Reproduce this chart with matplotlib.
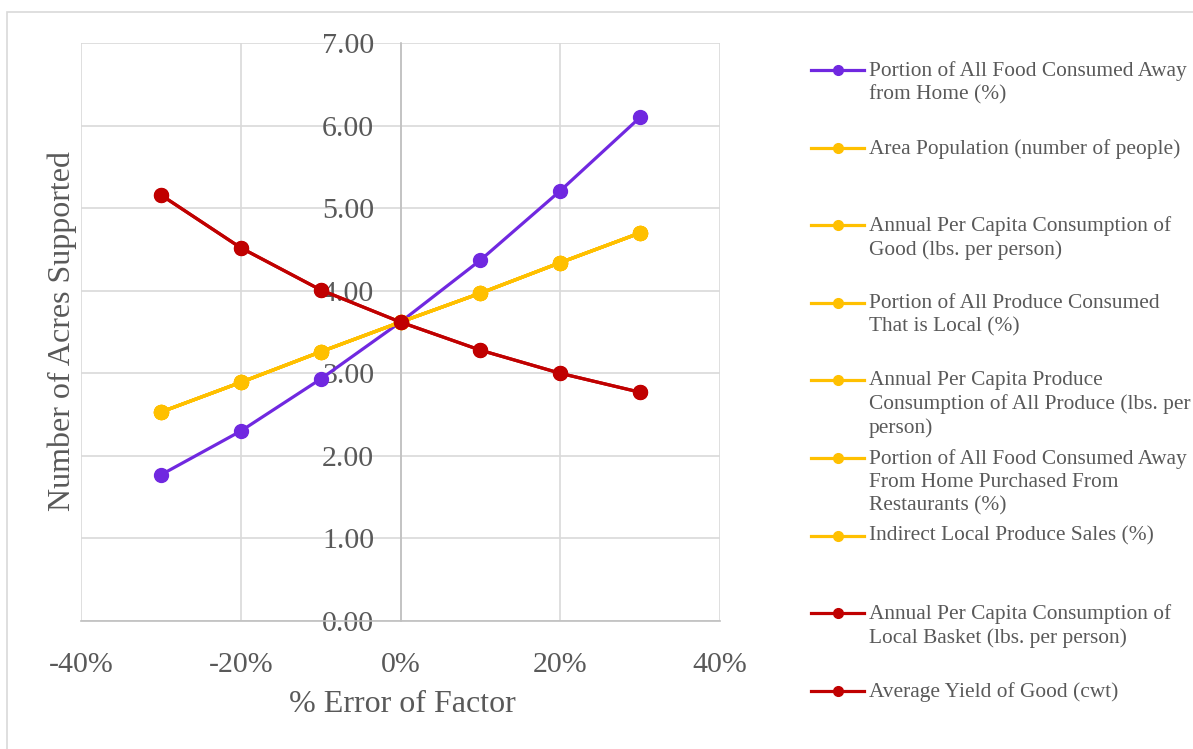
import matplotlib
matplotlib.use("Agg")
import matplotlib.pyplot as plt
from matplotlib.lines import Line2D
from matplotlib.patches import Rectangle

plt.rcParams['font.family'] = ['Liberation Serif', 'DejaVu Serif']

# % error applied to each factor
error_pct = [-30, -20, -10, 0, 10, 20, 30]

# acres supported for each kind of response
away_from_home = [1.77, 2.30, 2.93, 3.62, 4.37, 5.21, 6.10]
linear_factor = [2.53, 2.89, 3.26, 3.62, 3.97, 4.34, 4.70]
inverse_factor = [5.16, 4.52, 4.01, 3.62, 3.28, 3.00, 2.77]

purple = '#7028E0'
yellow = '#FFC000'
red = '#C00000'

series_names = [
    "Portion of All Food Consumed Away\nfrom Home (%)",
    "Area Population (number of people)",
    "Annual Per Capita Consumption of\nGood (lbs. per person)",
    "Portion of All Produce Consumed\nThat is Local (%)",
    "Annual Per Capita Produce\nConsumption of All Produce (lbs. per\nperson)",
    "Portion of All Food Consumed Away\nFrom Home Purchased From\nRestaurants (%)",
    "Indirect Local Produce Sales (%)",
    "Annual Per Capita Consumption of\nLocal Basket (lbs. per person)",
    "Average Yield of Good (cwt)",
]
series_values = [away_from_home] + [linear_factor] * 6 + [inverse_factor] * 2
series_colors = [purple] + [yellow] * 6 + [red] * 2

W, H = 1193, 749
fig = plt.figure(figsize=(W / 100, H / 100), dpi=100)
ax = fig.add_axes([81 / W, 1 - 621 / H, (720 - 81) / W, (621 - 43) / H])

for vals, col in zip(series_values, series_colors):
    ax.plot(error_pct, vals, color=col, lw=2.3, marker='o', ms=10,
            zorder=3, clip_on=False)

ax.set_xlim(-40, 40)
ax.set_ylim(0, 7)
ax.set_xticks([-40, -20, 0, 20, 40])
ax.set_xticklabels(['-40%', '-20%', '0%', '20%', '40%'])
ax.set_yticks(range(8))
ax.set_yticklabels(['%.2f' % v for v in range(8)])
ax.grid(True, color='#D9D9D9', lw=1.2, zorder=0)
ax.set_axisbelow(True)

for s in ['top', 'right']:
    ax.spines[s].set_visible(False)
ax.spines['left'].set_position(('data', 0))
for s in ['left', 'bottom']:
    ax.spines[s].set_color('#BFBFBF')
    ax.spines[s].set_linewidth(1.2)

ax.tick_params(axis='both', length=0, labelsize=21.5, labelcolor='#595959')
ax.tick_params(axis='x', pad=22)
ax.tick_params(axis='y', pad=19)

fig.text(402 / W, 1 - 704 / H, '% Error of Factor', ha='center', va='center',
         fontsize=23, color='#595959')
fig.text(62 / W, 1 - 331 / H, 'Number of Acres Supported', ha='center',
         va='center', rotation=90, fontsize=23, color='#595959')

# legend drawn by hand so each entry sits at its own row
for i, (name, col) in enumerate(zip(series_names, series_colors)):
    y = 1 - (70 + i * 77.6) / H
    fig.add_artist(Line2D([811 / W, 864 / W], [y, y], color=col, lw=2.3,
                          transform=fig.transFigure))
    fig.add_artist(Line2D([838 / W], [y], color=col, marker='o', ms=7,
                          transform=fig.transFigure))
    fig.text(869 / W, y + 9 / H, name, ha='left', va='top', fontsize=15.4,
             color='#595959', linespacing=1.28)

# outer chart border
fig.add_artist(Rectangle((7 / W, -0.1), 2, 1.1 - 12 / H, fill=False,
                         edgecolor='#D9D9D9', lw=1.2,
                         transform=fig.transFigure))

fig.savefig('out.png', dpi=100)
